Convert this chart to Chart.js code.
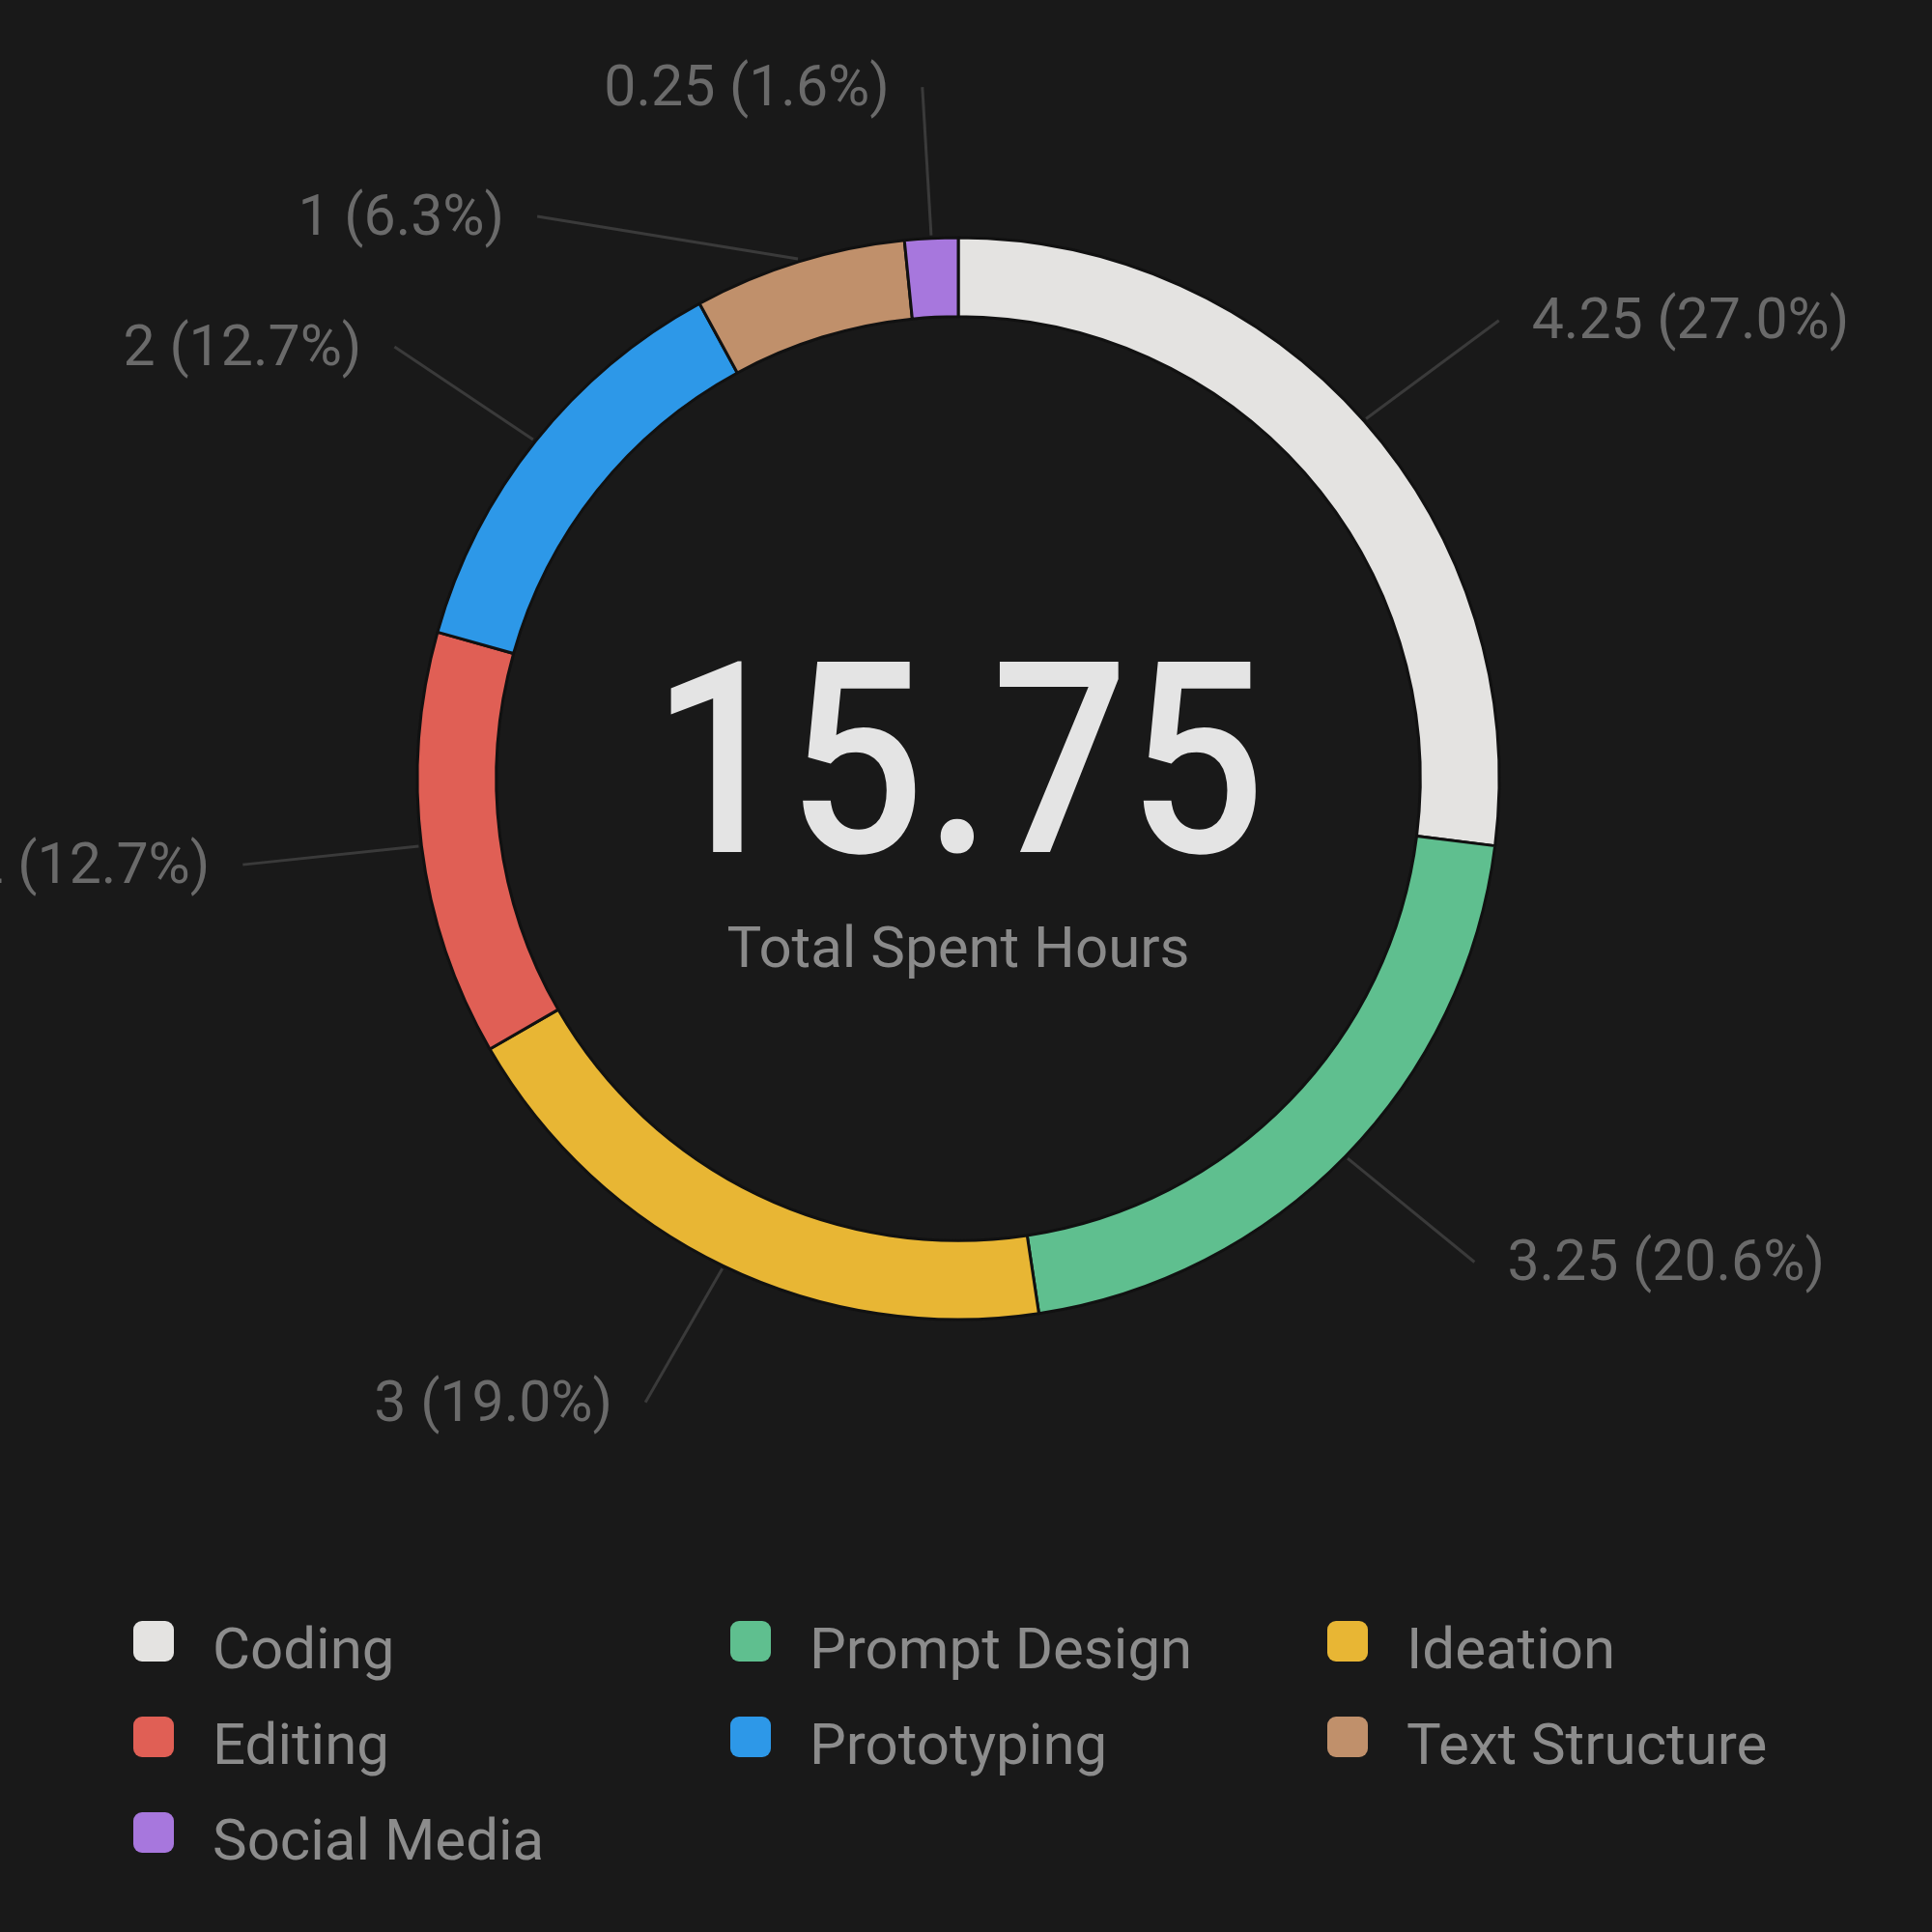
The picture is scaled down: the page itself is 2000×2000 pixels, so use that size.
<!DOCTYPE html>
<html><head><meta charset="utf-8">
<script src="https://cdn.jsdelivr.net/npm/chart.js@4.4.1/dist/chart.umd.min.js"></script>
<style>html,body{margin:0;padding:0;background:#191919;} canvas{display:block;}</style>
</head><body>
<canvas id="c" width="2000" height="2000" style="width:2000px;height:2000px"></canvas>
<script>
// ---- data ----
const categories = ['Coding', 'Prompt Design', 'Ideation', 'Editing', 'Prototyping', 'Text Structure', 'Social Media'];
const hours = [4.25, 3.25, 3, 2, 2, 1, 0.25];
const sliceColors = ['#e4e3e1', '#5fbf8f', '#e8b634', '#e05f55', '#2d98e8', '#c0906b', '#a777dd'];
const centerSubtitle = 'Total Spent Hours';

// ---- layout / style ----
const LAYOUT = {
  font: 'Roboto',
  bg: '#191919',
  labelRxRatio: 1.333,
  labelRyRatio: 1.28,
  lineStartGap: 3,
  labelSpacing: 134,
  labelTextGap: 34,
  labelFontSize: 59,
  labelColor: '#6a6a6a',
  lineColor: '#3a3a3a',
  centerFontSize: 277,
  centerScaleX: 0.9,
  centerColor: '#e4e4e4',
  centerBaselineOffset: 76,
  subFontSize: 60,
  subColor: '#8a8a8a',
  subBaselineOffset: 195,
  legendX0: 138, legendColW: 618, legendY0: 1678, legendRowH: 99,
  legendBox: 42, legendBoxRadius: 9, legendTextOffset: 82, legendFontSize: 60,
  legendColor: '#8c8c8c', legendCols: 3
};

const total = hours.reduce((a, b) => a + b, 0);
const fmtLabel = (v) => `${v} (${(v / total * 100).toFixed(1)}%)`;

const outLabels = {
  id: 'outLabels',
  afterDatasetsDraw(chart) {
    const ctx = chart.ctx;
    const meta = chart.getDatasetMeta(0);
    const L = LAYOUT;
    const items = meta.data.map((arc, i) => {
      const p = arc.getProps(['x', 'y', 'startAngle', 'endAngle', 'outerRadius'], true);
      const mid = (p.startAngle + p.endAngle) / 2;
      const rx = p.outerRadius * L.labelRxRatio;
      const ry = p.outerRadius * L.labelRyRatio;
      return {
        i, cx: p.x, cy: p.y, rx, ry,
        sx: p.x + Math.cos(mid) * (p.outerRadius + L.lineStartGap),
        sy: p.y + Math.sin(mid) * (p.outerRadius + L.lineStartGap),
        right: Math.cos(mid) >= 0,
        ey: p.y + Math.sin(mid) * ry
      };
    });
    [true, false].forEach(side => {
      const arr = items.filter(it => it.right === side).sort((a, b) => a.ey - b.ey);
      let prev = -Infinity;
      arr.forEach(it => {
        const y = Math.max(it.ey, prev + L.labelSpacing);
        it.ey = y; prev = y;
        const k = (y - it.cy) / it.ry;
        const dx = it.rx * Math.sqrt(Math.max(1 - k * k, 0));
        it.ex = it.cx + (it.right ? dx : -dx);
      });
    });
    ctx.save();
    ctx.lineWidth = 3;
    ctx.strokeStyle = L.lineColor;
    ctx.fillStyle = L.labelColor;
    ctx.font = `400 ${L.labelFontSize}px ${L.font}`;
    ctx.textBaseline = 'middle';
    items.forEach(it => {
      ctx.beginPath();
      ctx.moveTo(it.sx, it.sy);
      ctx.lineTo(it.ex, it.ey);
      ctx.stroke();
      ctx.textAlign = it.right ? 'left' : 'right';
      const tx = it.ex + (it.right ? L.labelTextGap : -L.labelTextGap);
      ctx.fillText(fmtLabel(hours[it.i]), tx, it.ey + 4);
    });
    ctx.restore();
  },
  afterDraw(chart) {
    const ctx = chart.ctx;
    const L = LAYOUT;
    const arc = chart.getDatasetMeta(0).data[0];
    const cx = arc.x, cy = arc.y;
    ctx.save();
    // center number
    ctx.fillStyle = L.centerColor;
    ctx.font = `500 ${L.centerFontSize}px ${L.font}`;
    ctx.textAlign = 'center';
    ctx.textBaseline = 'alphabetic';
    ctx.save();
    ctx.translate(cx, cy + L.centerBaselineOffset);
    ctx.scale(L.centerScaleX, 1);
    ctx.fillText(String(total), 0, 0);
    ctx.restore();
    ctx.fillStyle = L.subColor;
    ctx.font = `400 ${L.subFontSize}px ${L.font}`;
    ctx.fillText(centerSubtitle, cx, cy + L.subBaselineOffset);
    // legend
    ctx.textAlign = 'left';
    ctx.textBaseline = 'middle';
    ctx.font = `400 ${L.legendFontSize}px ${L.font}`;
    categories.forEach((name, i) => {
      const col = i % L.legendCols, row = Math.floor(i / L.legendCols);
      const x = L.legendX0 + col * L.legendColW;
      const y = L.legendY0 + row * L.legendRowH;
      ctx.fillStyle = sliceColors[i];
      ctx.beginPath();
      ctx.roundRect(x, y, L.legendBox, L.legendBox, L.legendBoxRadius);
      ctx.fill();
      ctx.fillStyle = L.legendColor;
      ctx.fillText(name, x + L.legendTextOffset, y + L.legendBox / 2 + 13);
    });
    ctx.restore();
  }
};

new Chart(document.getElementById('c'), {
  type: 'doughnut',
  data: {
    labels: categories,
    datasets: [{
      data: hours,
      backgroundColor: sliceColors,
      borderColor: '#111111',
      borderWidth: 3,
      hoverOffset: 0
    }]
  },
  options: {
    responsive: false,
    animation: false,
    radius: 560,
    cutout: '85.4%',
    layout: { padding: { left: 0, right: 16, top: 0, bottom: 388 } },
    plugins: { legend: { display: false }, tooltip: { enabled: false } }
  },
  plugins: [{ id: 'bg', beforeDraw(chart) { const c = chart.ctx; c.save(); c.fillStyle = LAYOUT.bg; c.fillRect(0, 0, chart.width, chart.height); c.restore(); } }, outLabels]
});
</script>
</body></html>
